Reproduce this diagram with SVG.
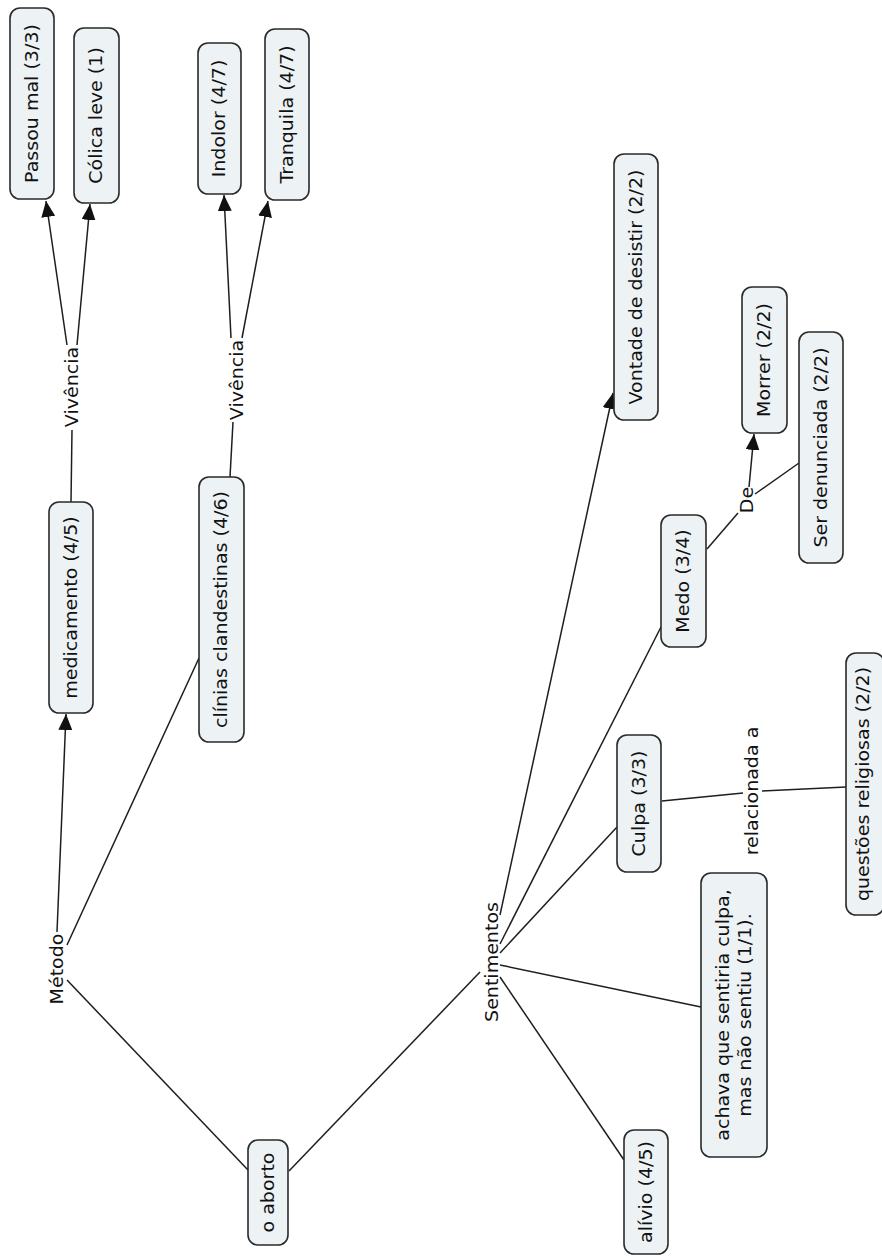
<svg xmlns="http://www.w3.org/2000/svg" width="882" height="1258" viewBox="0 0 882 1258">
<style>
.node rect{fill:#edf2f5;stroke:#2a2a2a;stroke-width:1.6}
text{font-family:"DejaVu Sans","Liberation Sans",sans-serif;font-size:17px;fill:#111;text-anchor:middle}
.conn line{stroke:#1e1e1e;stroke-width:1.5}
</style>
<defs>
<marker id="arr" markerUnits="userSpaceOnUse" markerWidth="18" markerHeight="14" refX="16" refY="7" orient="auto">
<path d="M0,0 L16,7 L0,14 z" fill="#111"/>
</marker>
</defs>
<rect width="882" height="1258" fill="#fff"/>
<g id="connectors" class="conn">
<line x1="248" y1="1170" x2="67" y2="980"/>
<line x1="289" y1="1171" x2="480" y2="972"/>
<line x1="57" y1="932" x2="66" y2="714" marker-end="url(#arr)"/>
<line x1="67" y1="945" x2="199" y2="658"/>
<line x1="71" y1="502" x2="72" y2="430"/>
<line x1="67" y1="345" x2="46" y2="201" marker-end="url(#arr)"/>
<line x1="77" y1="345" x2="90" y2="204" marker-end="url(#arr)"/>
<line x1="230" y1="477" x2="233" y2="422"/>
<line x1="231" y1="338" x2="224" y2="195" marker-end="url(#arr)"/>
<line x1="242" y1="338" x2="268" y2="201" marker-end="url(#arr)"/>
<line x1="500" y1="915" x2="613" y2="393" marker-end="url(#arr)"/>
<line x1="500" y1="944" x2="661" y2="627"/>
<line x1="500" y1="953" x2="617" y2="827"/>
<line x1="500" y1="965" x2="701" y2="1007"/>
<line x1="500" y1="977" x2="624" y2="1160"/>
<line x1="707" y1="549" x2="738" y2="513"/>
<line x1="749" y1="487" x2="754" y2="434" marker-end="url(#arr)"/>
<line x1="755" y1="494" x2="799" y2="463"/>
<line x1="662" y1="801" x2="743" y2="793"/>
<line x1="762" y1="791" x2="846" y2="787"/>
</g>
<g id="labels">
<text transform="translate(57,969) rotate(-90) scale(1.12,1)" dy="0.35em">Método</text>
<text transform="translate(72,387) rotate(-90) scale(1.12,1)" dy="0.35em">Vivência</text>
<text transform="translate(237,380) rotate(-90) scale(1.12,1)" dy="0.35em">Vivência</text>
<text transform="translate(492,962) rotate(-90) scale(1.12,1)" dy="0.35em">Sentimentos</text>
<text transform="translate(747,500) rotate(-90) scale(1.12,1)" dy="0.35em">De</text>
<text transform="translate(752,791) rotate(-90) scale(1.12,1)" dy="0.35em">relacionada a</text>
</g>
<g id="n-passou" class="node"><rect x="10" y="8" width="44" height="191" rx="10"/><text transform="translate(32,103.5) rotate(-90) scale(1.12,1)" dy="0.35em">Passou mal (3/3)</text></g>
<g id="n-colica" class="node"><rect x="74" y="28" width="45" height="175" rx="10"/><text transform="translate(96.5,115.5) rotate(-90) scale(1.12,1)" dy="0.35em">Cólica leve (1)</text></g>
<g id="n-indolor" class="node"><rect x="198" y="43" width="43" height="151" rx="10"/><text transform="translate(219.5,118.5) rotate(-90) scale(1.12,1)" dy="0.35em">Indolor (4/7)</text></g>
<g id="n-tranquila" class="node"><rect x="265" y="29" width="44" height="171" rx="10"/><text transform="translate(287,114.5) rotate(-90) scale(1.12,1)" dy="0.35em">Tranquila (4/7)</text></g>
<g id="n-medicamento" class="node"><rect x="49" y="502" width="44" height="211" rx="10"/><text transform="translate(71,607.5) rotate(-90) scale(1.12,1)" dy="0.35em">medicamento (4/5)</text></g>
<g id="n-clinias" class="node"><rect x="199" y="477" width="45" height="265" rx="10"/><text transform="translate(221.5,609.5) rotate(-90) scale(1.12,1)" dy="0.35em">clínias clandestinas (4/6)</text></g>
<g id="n-aborto" class="node"><rect x="248" y="1140" width="40" height="105" rx="10"/><text transform="translate(268,1192.5) rotate(-90) scale(1.12,1)" dy="0.35em">o aborto</text></g>
<g id="n-vontade" class="node"><rect x="614" y="154" width="44" height="266" rx="10"/><text transform="translate(636,287) rotate(-90) scale(1.12,1)" dy="0.35em">Vontade de desistir (2/2)</text></g>
<g id="n-morrer" class="node"><rect x="742" y="287" width="45" height="146" rx="10"/><text transform="translate(764.5,360) rotate(-90) scale(1.12,1)" dy="0.35em">Morrer (2/2)</text></g>
<g id="n-denunciada" class="node"><rect x="799" y="332" width="44" height="231" rx="10"/><text transform="translate(821,447.5) rotate(-90) scale(1.12,1)" dy="0.35em">Ser denunciada (2/2)</text></g>
<g id="n-medo" class="node"><rect x="661" y="515" width="45" height="132" rx="10"/><text transform="translate(683.5,581) rotate(-90) scale(1.12,1)" dy="0.35em">Medo (3/4)</text></g>
<g id="n-culpa" class="node"><rect x="617" y="735" width="44" height="137" rx="10"/><text transform="translate(639,803.5) rotate(-90) scale(1.12,1)" dy="0.35em">Culpa (3/3)</text></g>
<g id="n-questoes" class="node"><rect x="846" y="653" width="38" height="262" rx="10"/><text transform="translate(863,784) rotate(-90) scale(1.12,1)" dy="0.35em">questões religiosas (2/2)</text></g>
<g id="n-achava" class="node"><rect x="701" y="873" width="66" height="284" rx="10"/><text transform="translate(734,1015) rotate(-90) scale(1.12,1)"><tspan x="0" y="-11" dy="0.35em">achava que sentiria culpa,</tspan><tspan x="0" y="11" dy="0.35em">mas não sentiu (1/1).</tspan></text></g>
<g id="n-alivio" class="node"><rect x="624" y="1130" width="44" height="124" rx="10"/><text transform="translate(646,1192) rotate(-90) scale(1.12,1)" dy="0.35em">alívio (4/5)</text></g>
</svg>
